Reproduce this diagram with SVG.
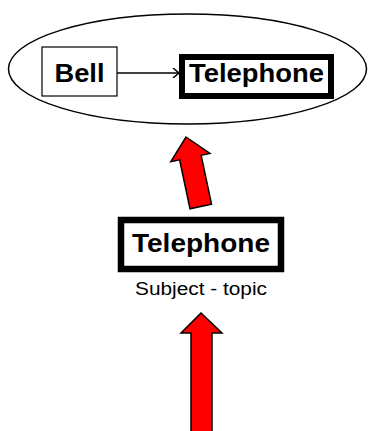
<svg xmlns="http://www.w3.org/2000/svg" width="370" height="431" viewBox="0 0 370 431">
<style>
.lbl{font-family:"Liberation Sans",Arial,sans-serif;font-weight:bold;font-size:26px;fill:#000;text-anchor:middle}
.sub{font-family:"Liberation Sans",Arial,sans-serif;font-size:18px;fill:#000;text-anchor:middle}
.red{fill:#FF0000;stroke:#000;stroke-width:1.5;stroke-linejoin:miter}
</style>
<defs>
<marker id="open" markerWidth="10" markerHeight="10" refX="8" refY="5" orient="auto" markerUnits="userSpaceOnUse">
<path d="M2,0 L8,5 L2,10" fill="none" stroke="#000" stroke-width="1.5"/>
</marker>
</defs>
<g id="context">
<ellipse cx="187.5" cy="69" rx="179" ry="55" fill="none" stroke="#000" stroke-width="1.5"/>
</g>
<g id="bell">
<rect x="42" y="47" width="75" height="49" fill="#fff" stroke="#000" stroke-width="1.2"/>
<text class="lbl" x="79.5" y="82" textLength="50" lengthAdjust="spacingAndGlyphs">Bell</text>
</g>
<g id="telephone-top">
<rect x="182" y="57" width="149" height="39" fill="#fff" stroke="#000" stroke-width="6"/>
<text class="lbl" x="256.5" y="82" textLength="135" lengthAdjust="spacingAndGlyphs">Telephone</text>
</g>
<g id="telephone-subject">
<rect x="121" y="220" width="160" height="49" fill="#fff" stroke="#000" stroke-width="6.5"/>
<text class="lbl" x="201" y="252" textLength="138" lengthAdjust="spacingAndGlyphs">Telephone</text>
<text class="sub" x="201" y="295" textLength="132" lengthAdjust="spacingAndGlyphs">Subject - topic</text>
</g>
<g id="connectors">
<line x1="117" y1="73" x2="179" y2="73" stroke="#000" stroke-width="1.5" marker-end="url(#open)"/>
<path class="red" transform="translate(186,137) rotate(-12)" d="M0,0 L20,21 L11,21 L11,71 L-11,71 L-11,21 L-20,21 Z"/>
<path class="red" d="M201,313 L222,333 L212,333 L212,432 L191,432 L191,333 L181,333 Z"/>
</g>
</svg>
